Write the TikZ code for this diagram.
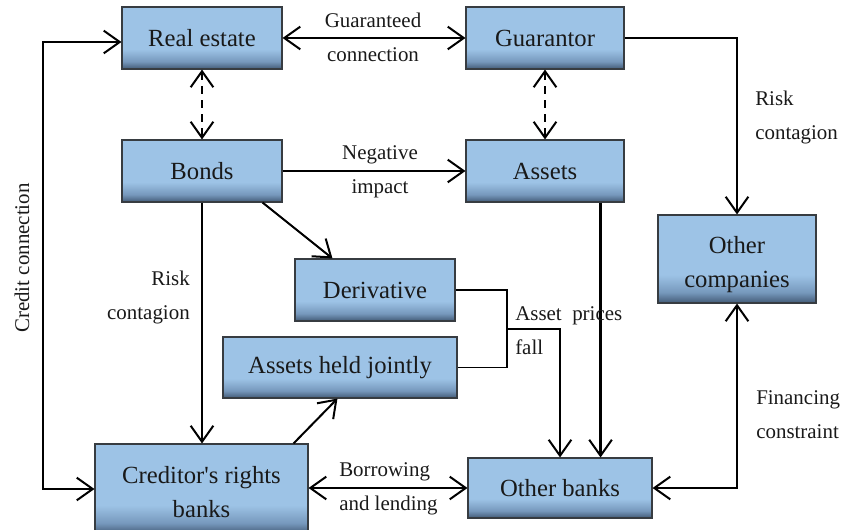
\documentclass[tikz,border=0pt]{standalone}
\usepackage{fontspec}
\setmainfont{Liberation Serif}[Ligatures=TeXOff]
\usetikzlibrary{arrows.meta,calc}
\definecolor{lightb}{RGB}{157,195,230}
\definecolor{midb}{RGB}{118,152,188}
\definecolor{darkb}{RGB}{66,90,118}
\definecolor{txt}{RGB}{25,25,25}
\definecolor{bord}{RGB}{55,60,65}
\pgfdeclareverticalshading{boxshade}{100bp}{color(0bp)=(darkb); color(25bp)=(darkb); color(31bp)=(midb); color(41bp)=(lightb); color(100bp)=(lightb)}
\begin{document}
\begin{tikzpicture}[x=0.75pt,y=-0.75pt,
  box/.style={draw=bord, line width=0.8pt, shading=boxshade, align=center,
    text=txt, font=\fontsize{18.5}{25.5}\selectfont, inner sep=0pt},
  lbl/.style={text=txt, font=\fontsize{15.7}{25.5}\selectfont, inner sep=0pt},
  conn/.style={line width=1.5pt, black},
  tip/.style={-{Straight Barb[length=12pt,width=17pt,line width=1.5pt]}},
  tips/.style={{Straight Barb[length=12pt,width=17pt,line width=1.5pt]}-{Straight Barb[length=12pt,width=17pt,line width=1.5pt]}},
  dsh/.style={dash pattern=on 6pt off 4.5pt}]
\useasboundingbox (0,0) rectangle (841,530);

\node[box, minimum width=120pt, minimum height=46.5pt] (re) at (202,38) {Real estate};
\node[box, minimum width=118.5pt, minimum height=46.5pt] (gu) at (545,38) {Guarantor};
\node[box, minimum width=120pt, minimum height=46.5pt] (bo) at (202,171) {Bonds};
\node[box, minimum width=118.5pt, minimum height=46.5pt] (as) at (545,171) {Assets};
\node[box, minimum width=120pt, minimum height=46.5pt] (de) at (375,290) {Derivative};
\node[box, minimum width=175.5pt, minimum height=45.75pt] (ahj) at (340,367.5) {Assets held jointly};
\node[box, minimum width=159.75pt, minimum height=67.5pt] (cr) at (201.5,489) {\rule{0pt}{18pt}Creditor's rights\\banks};
\node[box, minimum width=138pt, minimum height=45pt] (ob) at (560,488) {Other banks};
\node[box, minimum width=118.5pt, minimum height=66pt] (oc) at (737,259) {\rule{0pt}{21.5pt}Other\\companies};

\coordinate (cl) at (43,0);
\coordinate (jn) at (507,329);
\coordinate (ra) at ($(re.west)+(0,4)$);
\coordinate (asb) at ($(as.south east)+(-24,0)$);

% top row
\draw[conn, tips] (re.east) -- (gu.west);
\draw[conn, tips, dsh] (re.south) -- (bo.north);
\draw[conn, tips, dsh] (gu.south) -- (as.north);
\draw[conn, tip] (bo.east) -- (as.west);
\draw[conn, tip] (gu.east) -| (oc.north);

% bonds
\draw[conn, tip] ($(bo.south east)+(-20,0)$) -- ($(de.north west)+(38,0)$);
\draw[conn, tip] (bo.south) -- (bo.south |- cr.north);

% assets to other banks
\draw[line width=2.5pt, -{Straight Barb[length=12pt,width=17pt,line width=1.5pt]}] (asb) -- (asb |- ob.north);

% asset prices fall
\draw[conn, line width=1.3pt] (de.east) -- (de.east -| jn) -- (ahj.east -| jn) -- (ahj.east);
\draw[conn, line width=1.3pt, tip] (jn) -| (ob.north);

% creditor
\draw[conn, tip] ($(cr.north east)+(-15,0)$) -- ($(ahj.south west)+(115,0)$);
\draw[conn, tips] (ob.west -| cr.east) -- (ob.west);
\draw[conn, tips] (ra) -- (ra -| cl) -- (cr.west -| cl) -- (cr.west);
\draw[conn, tips] (ob.east) -| (oc.south);

% labels
\node[lbl, align=center] (l1) at (373,37) {Guaranteed\\connection};
\node[lbl, align=center] (l2) at (380,172) {Negative\\impact};
\node[lbl, align=left, anchor=west] (l3) at (755,118) {Risk\\contagion};
\node[lbl, align=right, anchor=east] (l4) at (190,297) {Risk\\contagion};
\node[lbl, align=left, anchor=west] (l5) at (515,331) {Asset\hspace{0.5em}prices\\fall};
\node[lbl, align=left, anchor=west] (l6) at (339,489) {Borrowing\\and lending};
\node[lbl, align=left, anchor=west] (l7) at (756,415) {Financing\\constraint};
\node[lbl, rotate=90] (l8) at (22,258) {Credit connection};
\end{tikzpicture}
\end{document}
